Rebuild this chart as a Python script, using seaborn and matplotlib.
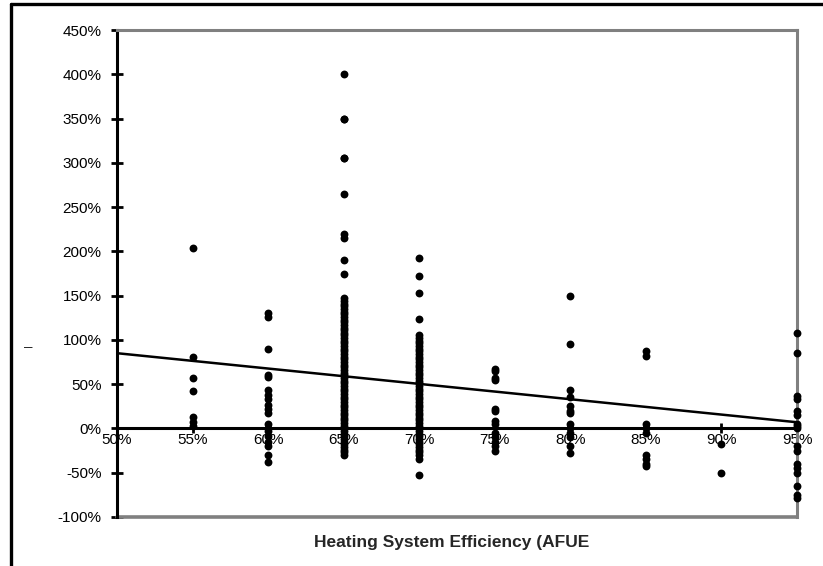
import numpy as np
import pandas as pd
import matplotlib
matplotlib.use("Agg")
import matplotlib.pyplot as plt
import seaborn as sns
from matplotlib.lines import Line2D
from matplotlib.ticker import FuncFormatter

# ---- data ----
eff_55 = [204, 81, 57, 42, 13, 7, 3]
eff_60 = [130, 126, 90, 60, 58, 43, 38, 33, 27, 22, 17, 5, 0, -3, -8, -15, -20, -30, -38]
eff_65 = [400, 350, 350, 305, 305, 265, 220, 215, 190, 175, 147, 144, 141, 138, 135, 132,
          129, 126, 123, 120, 117, 114, 111, 108, 105, 102, 99, 96, 93, 90, 87, 84, 81,
          78, 75, 72, 69, 66, 63, 60, 57, 54, 51, 48, 45, 42, 39, 36, 33, 30, 27, 24, 21,
          18, 15, 12, 9, 6, 3, 0, -3, -6, -9, -12, -15, -18, -21, -24, -27, -30]
eff_70 = [193, 172, 153, 124, 105, 102, 99, 96, 93, 90, 87, 84, 81, 78, 75, 72, 69, 66, 63,
          60, 57, 54, 51, 48, 45, 42, 39, 36, 33, 30, 27, 24, 21, 18, 15, 12, 9, 6, 3, 0,
          -3, -6, -9, -12, -15, -18, -21, -24, -27, -30, -35, -53]
eff_75 = [67, 65, 57, 55, 22, 20, 8, 5, -5, -10, -15, -20, -25]
eff_80 = [150, 95, 43, 35, 25, 20, 18, 5, 0, -5, -10, -20, -28]
eff_85 = [88, 82, 5, 0, -5, -30, -35, -40, -42]
eff_90 = [-17, -50]
eff_95 = [108, 85, 37, 33, 20, 15, 5, 3, 0, -20, -25, -40, -45, -50, -65, -75, -78]

efficiencies = [55, 60, 65, 70, 75, 80, 85, 90, 95]
series = [eff_55, eff_60, eff_65, eff_70, eff_75, eff_80, eff_85, eff_90, eff_95]

trend_x = [50, 95]
trend_y = [85, 7]

x_ticks = [50, 55, 60, 65, 70, 75, 80, 85, 90, 95]
y_ticks = [-100, -50, 0, 50, 100, 150, 200, 250, 300, 350, 400, 450]
x_label = "Heating System Efficiency (AFUE"

rows = []
for e, vals in zip(efficiencies, series):
    for v in vals:
        rows.append({"eff": e, "change": v})
df = pd.DataFrame(rows)

# ---- plot ----
sns.set_style("white")
plt.rcParams["font.family"] = ["Liberation Sans", "DejaVu Sans"]

fig = plt.figure(figsize=(8.23, 5.66), dpi=100)
ax = fig.add_axes([117 / 823, 1 - 517 / 566, (797 - 117) / 823, (517 - 30) / 566])

sns.scatterplot(data=df, x="eff", y="change", ax=ax, color="black", s=32,
                edgecolor="black", linewidth=0, clip_on=False, zorder=4, legend=False)
ax.plot(trend_x, trend_y, color="black", lw=1.8, zorder=3)

ax.set_xlim(50, 95)
ax.set_ylim(-100, 450)
ax.set_xticks(x_ticks)
ax.set_yticks(y_ticks)
pct = FuncFormatter(lambda v, p: f"{int(round(v))}%")
ax.xaxis.set_major_formatter(pct)
ax.yaxis.set_major_formatter(pct)

for side in ["top", "right"]:
    ax.spines[side].set_color("#808080")
    ax.spines[side].set_linewidth(2.2)
ax.spines["left"].set_color("black")
ax.spines["left"].set_linewidth(2.2)
ax.spines["bottom"].set_position(("data", 0))
ax.spines["bottom"].set_color("black")
ax.spines["bottom"].set_linewidth(2.2)
ax.axhline(-100, color="#808080", lw=2.6, clip_on=False, zorder=1)

ax.tick_params(axis="y", direction="inout", length=8, width=2, colors="black",
               labelsize=11, pad=7, left=True)
ax.tick_params(axis="x", direction="inout", length=7, width=2, colors="black",
               labelsize=11, pad=0, bottom=True)
ax.set_xlabel("")
ax.set_ylabel("")

fig.text(452 / 823, 1 - 543 / 566, x_label, ha="center", va="center",
         fontsize=12.5, fontweight="bold")
fig.text(28 / 823, 1 - 347 / 566, "\u2013", ha="center", va="center", fontsize=11)

# outer frame (top and left)
fig.add_artist(Line2D([11 / 823, 11 / 823], [0, 1 - 4 / 566], transform=fig.transFigure,
                      color="black", lw=2.4))
fig.add_artist(Line2D([11 / 823, 1], [1 - 4 / 566, 1 - 4 / 566], transform=fig.transFigure,
                      color="black", lw=2.4))

fig.savefig("out.png", dpi=100)
